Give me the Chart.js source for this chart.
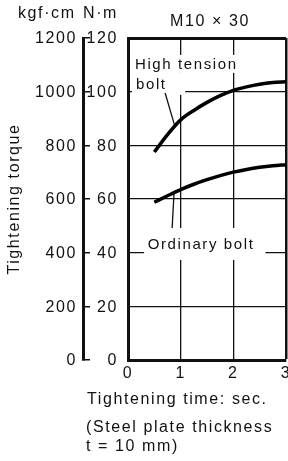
<!DOCTYPE html>
<html lang="en">
<head>
  <meta charset="UTF-8">
  <title>Tightening torque</title>
  <style>
    body { margin: 0; background: #fff; overflow: hidden; }
    .wrap { position: relative; width: 288px; height: 461px; }
    .note {
      position: absolute;
      font: 16px "Liberation Sans", Arial, sans-serif;
      line-height: 16px;
      letter-spacing: 1.6px;
      color: #111;
      white-space: nowrap;
    }
  </style>
</head>
<body>
  <div class="wrap">
    <canvas id="torqueChart"></canvas>
    <div class="note" style="left:18px;top:5px">kgf·cm</div>
    <div class="note" style="left:83px;top:5px">N·m</div>
    <div class="note" style="left:170px;top:13px">M10 × 30</div>
    <div class="note" style="left:87px;top:391px">Tightening time: sec.</div>
    <div class="note" style="left:86px;top:419px">(Steel plate thickness</div>
    <div class="note" style="left:86px;top:438px">t = 10 mm)</div>
  </div>

  <script src="https://cdn.jsdelivr.net/npm/chart.js"></script>
  <script>
    // values
    const times = [0.5, 0.75, 1, 1.25, 1.5, 1.75, 2, 2.25, 2.5, 2.75, 3];
    const highTension = [77.5, 84, 89.5, 93, 96, 98.5, 100.5, 101.8, 102.8, 103.4, 103.7];
    const ordinary = [58.8, 61.2, 63.5, 65.5, 67.2, 68.7, 70, 71, 71.8, 72.4, 72.8];

    const timeTicks = [0, 1, 2, 3];
    const nmTicks = [0, 20, 40, 60, 80, 100, 120];
    const kgfTicks = [0, 200, 400, 600, 800, 1000, 1200];

    // callout labels, in data units (x = sec, y = N·m)
    const callouts = {
      boxes: [
        { x: [0.076, 2.133], y: [113.7, 107.0] },
        { x: [0.076, 1.086], y: [107.0, 98.8] },
        { x: [0.305, 2.61], y: [49.2, 37.3] }
      ],
      leaders: [
        { from: [0.705, 99.5], to: [0.882, 87.6] },
        { from: [0.876, 63.0], to: [0.838, 49.2] }
      ],
      labels: [
        { text: "High tension", at: [0.133, 108.3] },
        { text: "bolt", at: [0.152, 100.9] },
        { text: "Ordinary bolt", at: [0.375, 41.3] }
      ]
    };

    const toPoints = (xs, ys) => xs.map((t, i) => ({ x: t, y: ys[i] }));
    const setTicks = list => scale => { scale.ticks = list.map(v => ({ value: v })); };

    Chart.defaults.font.family = '"Liberation Sans", Arial, sans-serif';
    Chart.defaults.font.size = 16;
    Chart.defaults.color = "#111";

    const calloutPlugin = {
      id: "callouts",
      beforeUpdate(chart) { chart.ctx.letterSpacing = "1.6px"; },
      beforeDraw(chart) { chart.ctx.letterSpacing = "1.6px"; },
      beforeDatasetsDraw(chart) {
        const { ctx, scales: { x, y } } = chart;
        ctx.save();
        ctx.fillStyle = "#fff";
        callouts.boxes.forEach(b => {
          const x1 = x.getPixelForValue(b.x[0]), x2 = x.getPixelForValue(b.x[1]);
          const y1 = y.getPixelForValue(b.y[0]), y2 = y.getPixelForValue(b.y[1]);
          ctx.fillRect(x1, y1, x2 - x1, y2 - y1);
        });
        ctx.strokeStyle = "#111";
        ctx.lineWidth = 1.3;
        callouts.leaders.forEach(l => {
          ctx.beginPath();
          ctx.moveTo(x.getPixelForValue(l.from[0]), y.getPixelForValue(l.from[1]));
          ctx.lineTo(x.getPixelForValue(l.to[0]), y.getPixelForValue(l.to[1]));
          ctx.stroke();
        });
        ctx.fillStyle = "#111";
        ctx.font = '15px "Liberation Sans", Arial, sans-serif';
        ctx.letterSpacing = "1.6px";
        ctx.textAlign = "left";
        ctx.textBaseline = "alphabetic";
        callouts.labels.forEach(t => {
          ctx.fillText(t.text, x.getPixelForValue(t.at[0]), y.getPixelForValue(t.at[1]));
        });
        ctx.restore();
      }
    };

    new Chart(document.getElementById("torqueChart"), {
      type: "scatter",
      data: {
        datasets: [
          { label: "High tension bolt", data: toPoints(times, highTension) },
          { label: "Ordinary bolt", data: toPoints(times, ordinary) }
        ]
      },
      options: {
        responsive: true,
        maintainAspectRatio: false,
        animation: false,
        layout: { padding: { top: 38, right: 2, left: 0, bottom: 0 } },
        elements: {
          line: { borderColor: "#000", borderWidth: 3.5, cubicInterpolationMode: "monotone" },
          point: { radius: 0, hoverRadius: 0 }
        },
        datasets: { scatter: { showLine: true } },
        plugins: { legend: { display: false }, tooltip: { enabled: false } },
        scales: {
          x: {
            type: "linear",
            min: 0,
            max: 3,
            afterBuildTicks: setTicks(timeTicks),
            afterFit: s => { s.height = 101; s.paddingLeft = 0; s.paddingRight = 0; },
            grid: {
              color: "#111",
              lineWidth: c => (c.tick && c.tick.value === 3 ? 2.5 : 1.3),
              drawTicks: false
            },
            border: { color: "#111", width: 3 },
            ticks: { padding: 4, callback: v => String(v) }
          },
          y: {
            position: "left",
            weight: 0,
            min: 0,
            max: 120,
            afterBuildTicks: setTicks(nmTicks),
            afterFit: s => { s.width = 45; },
            grid: {
              color: "#111",
              lineWidth: c => (c.tick && c.tick.value === 120 ? 3 : 1.3),
              drawTicks: false
            },
            border: { color: "#111", width: 3 },
            ticks: { padding: 10, labelOffset: 1, callback: v => String(v) }
          },
          kgf: {
            position: "left",
            weight: 1,
            min: 0,
            max: 1200,
            afterBuildTicks: setTicks(kgfTicks),
            afterFit: s => { s.width = 83; },
            grid: {
              drawOnChartArea: false,
              drawTicks: true,
              tickLength: -7,
              lineWidth: 1.5,
              tickWidth: 1.5,
              tickColor: "#111"
            },
            border: { color: "#111", width: 3 },
            ticks: { padding: 13, labelOffset: 1, callback: v => String(v) },
            title: { display: true, text: "Tightening torque", padding: { top: 5, bottom: 0 } }
          }
        }
      },
      plugins: [calloutPlugin]
    });
  </script>
</body>
</html>
